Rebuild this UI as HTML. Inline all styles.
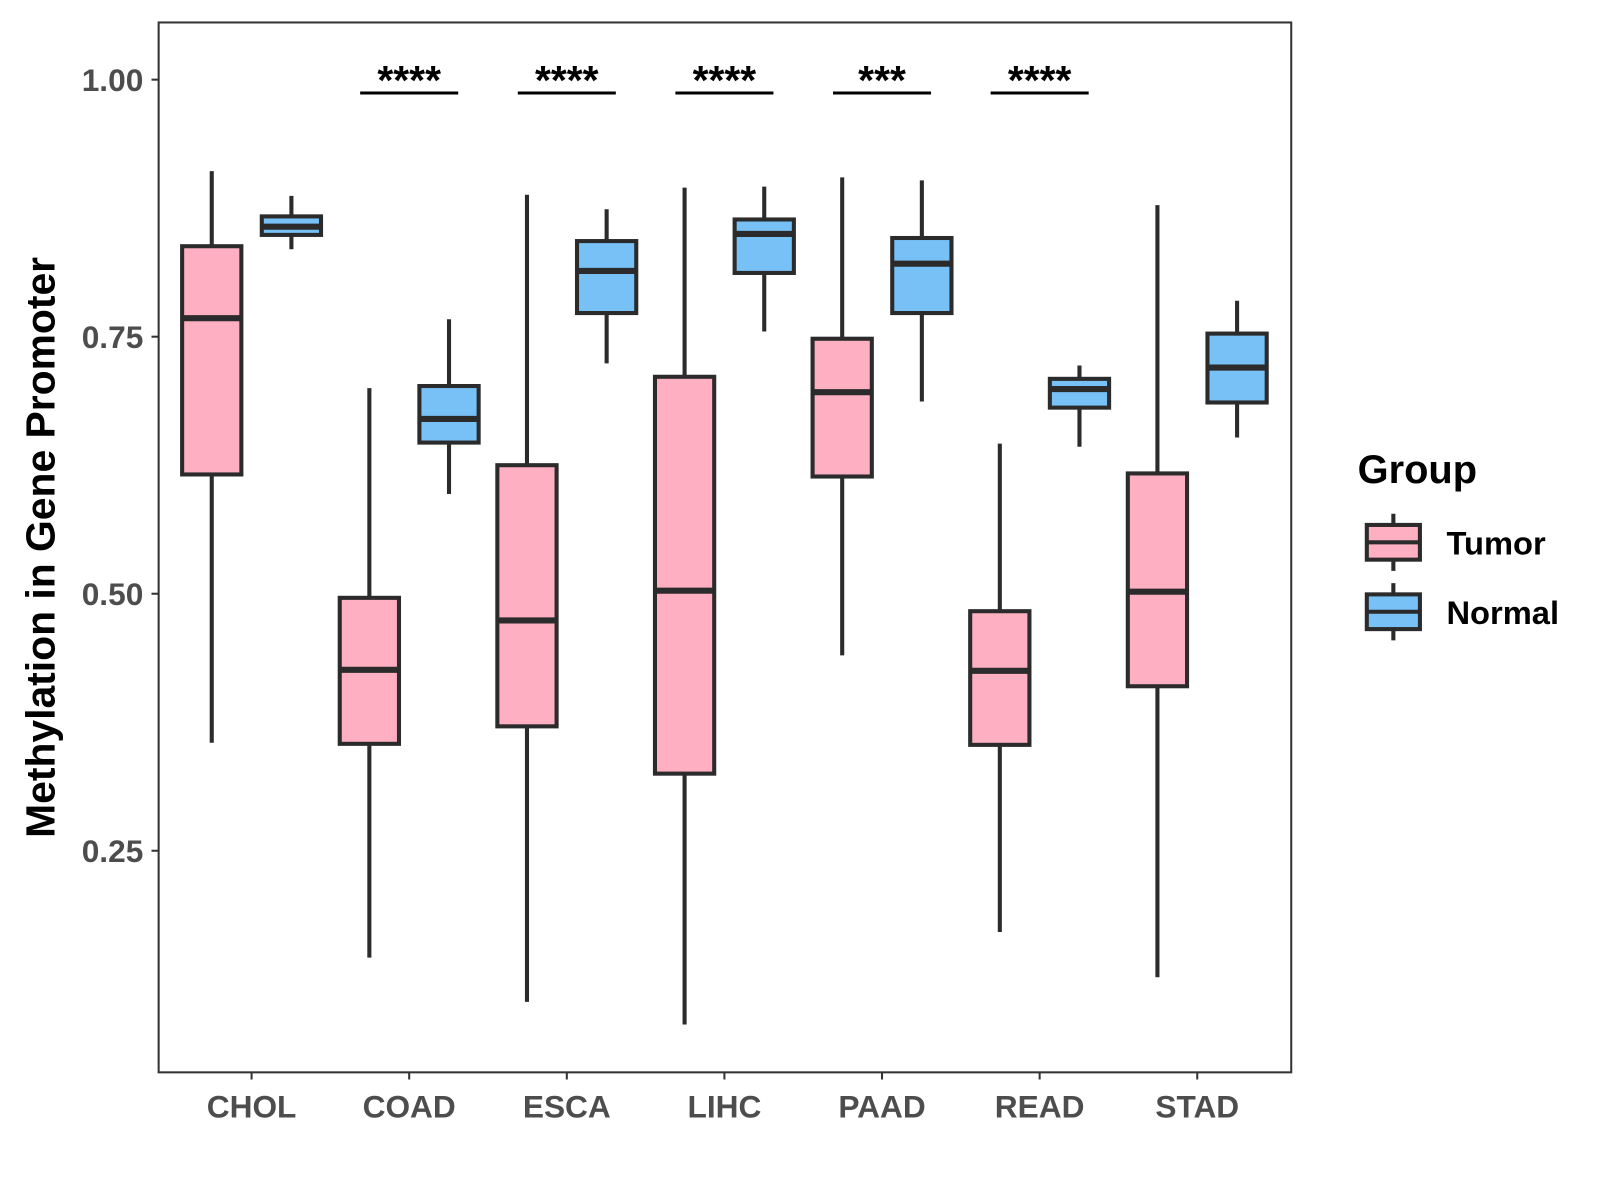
<!DOCTYPE html>
<html><head><meta charset="utf-8"><style>
html,body{margin:0;padding:0;background:#fff;}
svg{display:block;font-family:"Liberation Sans",Arial,sans-serif;}
</style></head><body>
<svg id="chart" width="1600" height="1200" viewBox="0 0 1566 1175">
<rect x="155" y="22" width="1109" height="1028" fill="#fff" stroke="#333" stroke-width="2"/>
<g id="marks"></g>
<text transform="translate(53,536) rotate(-90)" text-anchor="middle" font-size="40" font-weight="bold" fill="#000">Methylation in Gene Promoter</text>
<g>
<text x="1329" y="473" font-size="39" font-weight="bold" fill="#000">Group</text>
<g>
<line x1="1364" y1="503" x2="1364" y2="559" stroke="#2b2b2b" stroke-width="4"/>
<rect x="1338" y="514" width="52" height="34" fill="#ffafc2" stroke="#2b2b2b" stroke-width="4"/>
<line x1="1338" y1="531" x2="1390" y2="531" stroke="#2b2b2b" stroke-width="4"/>
<text x="1416" y="543" font-size="32" font-weight="bold" fill="#000">Tumor</text>
</g>
<g>
<line x1="1364" y1="571" x2="1364" y2="627" stroke="#2b2b2b" stroke-width="4"/>
<rect x="1338" y="582" width="52" height="34" fill="#77c1f7" stroke="#2b2b2b" stroke-width="4"/>
<line x1="1338" y1="599" x2="1390" y2="599" stroke="#2b2b2b" stroke-width="4"/>
<text x="1416" y="611" font-size="32" font-weight="bold" fill="#000">Normal</text>
</g>
</g>
</svg>
<script>
const categories=["CHOL","COAD","ESCA","LIHC","PAAD","READ","STAD"];
// [lowerWhisker, Q1, median, Q3, upperWhisker]
const tumorStats=[[0.355,0.616,0.768,0.838,0.911],[0.146,0.354,0.426,0.496,0.700],[0.103,0.371,0.474,0.625,0.888],[0.081,0.325,0.503,0.711,0.895],[0.440,0.614,0.696,0.748,0.905],[0.171,0.353,0.425,0.483,0.646],[0.127,0.410,0.502,0.617,0.878]];
const normalStats=[[0.835,0.849,0.857,0.867,0.887],[0.597,0.647,0.670,0.702,0.767],[0.724,0.773,0.814,0.843,0.874],[0.755,0.812,0.850,0.864,0.896],[0.687,0.773,0.821,0.846,0.902],[0.643,0.681,0.699,0.709,0.722],[0.652,0.686,0.720,0.753,0.785]];
const significance=["","****","****","****","***","****",""];
const yTicks=[0.25,0.50,0.75,1.00];
const yTickLabels=["0.25","0.50","0.75","1.00"];
const sigLevel=0.987;

const NS="http://www.w3.org/2000/svg";
const g=document.getElementById("marks");
function y(v){return 1084.7-1006.7*v;}
function x(i){return 246+154.33*i;}
function el(t,a){const e=document.createElementNS(NS,t);for(const k in a)e.setAttribute(k,a[k]);g.appendChild(e);return e;}
yTicks.forEach((v,i)=>{
  const t=el("line",{x1:148,x2:155,y1:y(v),y2:y(v),stroke:"#333","stroke-width":2});
  
  
  const l=el("text",{x:140,y:y(v)+11,"text-anchor":"end","font-size":31,"font-weight":"bold",fill:"#4d4d4d"});
  l.textContent=yTickLabels[i];
  
  
});
function box(cx,s,fill,name){
  const w=58;
  const a=el("line",{x1:cx,x2:cx,y1:y(s[0]),y2:y(s[4]),stroke:"#2b2b2b","stroke-width":4});
  
  
  const r=el("rect",{x:cx-w/2,y:y(s[3]),width:w,height:y(s[1])-y(s[3]),fill:fill,stroke:"#2b2b2b","stroke-width":4});
  
  
  const m=el("line",{x1:cx-w/2,x2:cx+w/2,y1:y(s[2]),y2:y(s[2]),stroke:"#2b2b2b","stroke-width":6});
  
  
}
categories.forEach((c,i)=>{
  const cx=x(i);
  box(cx-39,tumorStats[i],"#ffafc2",c.toLowerCase()+"-tumor");
  box(cx+39,normalStats[i],"#77c1f7",c.toLowerCase()+"-normal");
  const t=el("line",{x1:cx,x2:cx,y1:1050,y2:1057,stroke:"#333","stroke-width":2});
  
  
  const l=el("text",{x:cx,y:1094,"text-anchor":"middle","font-size":31,"font-weight":"bold",fill:"#4d4d4d"});
  l.textContent=c;
  
  
  if(significance[i]){
    const b=el("line",{x1:cx-48,x2:cx+48,y1:y(sigLevel),y2:y(sigLevel),stroke:"#000","stroke-width":3});
    
    
    const s=el("text",{x:cx,y:y(sigLevel)+1,"text-anchor":"middle","font-size":40,"font-weight":"bold",fill:"#000"});
    s.textContent=significance[i];
    
    
  }
});
</script>
</body></html>
